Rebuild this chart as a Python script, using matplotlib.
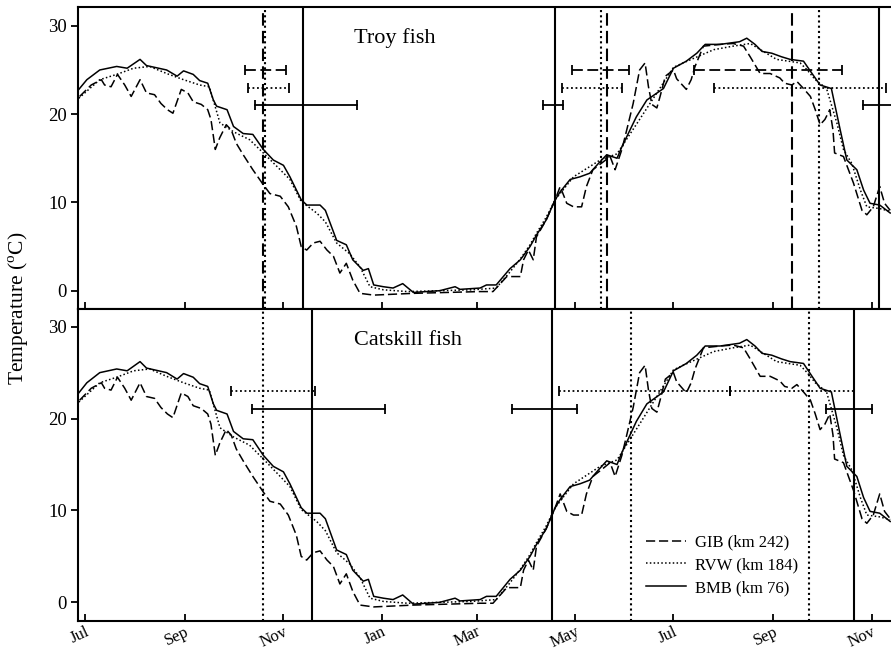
import numpy as np
import matplotlib
matplotlib.use("Agg")
import matplotlib.pyplot as plt

plt.rcParams['font.family'] = 'serif'
plt.rcParams['font.serif'] = ['Liberation Serif', 'DejaVu Serif']
plt.rcParams['mathtext.fontset'] = 'custom'
plt.rcParams['mathtext.rm'] = 'Liberation Serif'

# ---------------- data (x = days since 1 July) ----------------
gib_pts = [(-3.5, 22.0), (3.7, 23.3), (10, 23.9), (12, 23.3), (16, 23.1), (20, 24.5),
           (24.5, 23.3), (28.5, 22.0), (34, 23.9), (38, 22.4), (43, 22.2), (47, 21.2),
           (51, 20.5), (54.4, 20.1), (59.6, 22.8), (63.7, 22.4), (67, 21.4), (72, 21.1),
           (76, 20.5), (78, 19.4), (80.7, 16.0), (83.4, 17.3), (87.5, 18.8), (90.6, 18.2),
           (93.7, 16.7), (98, 15.4), (104, 13.7), (110.5, 12.0), (114.6, 11.0), (121, 10.7),
           (126, 9.5), (131, 7.3), (134, 5.0), (137.4, 4.6), (141.5, 5.4), (145.7, 5.6),
           (150, 4.6), (154, 3.9), (158, 2.0), (162, 3.1), (166, 1.2), (170.5, -0.3),
           (179, -0.5), (203.6, -0.3), (245, -0.1), (253, -0.1), (261.6, 1.6), (270, 1.6),
           (272, 3.5), (275, 4.6), (278, 3.5), (280, 6.1), (286, 8.0), (291.6, 10.3),
           (294.7, 11.8), (298.8, 9.9), (303, 9.5), (308, 9.5), (311, 11.8), (315, 13.7),
           (321.5, 14.6), (325.7, 15.2), (328.8, 13.7), (333, 16.0), (336, 18.2), (340, 21.2),
           (344, 25.0), (347.4, 25.8), (349.5, 23.1), (351.6, 21.1), (354.7, 20.7), (356.7, 22.0),
           (360, 24.3), (365, 25.0), (367, 24.0), (373, 22.8), (376, 23.9), (378.4, 25.4),
           (383.6, 27.7), (394, 27.9), (402, 28.0), (408.5, 27.7), (412.6, 26.5), (418.8, 24.6),
           (425, 24.6), (431, 24.1), (434, 23.5), (438.5, 23.3), (441.6, 23.7), (445.7, 22.9),
           (450, 22.0), (453, 20.5), (456, 18.8), (459, 19.4), (462, 20.5), (464, 18.2),
           (465, 15.6), (470.5, 15.2), (476.7, 12.2), (482, 9.1), (485, 8.6), (489, 9.5),
           (493, 11.8), (496, 9.9), (499.5, 9.1)]

rvw_pts = [(-4, 21.8), (9, 23.9), (19.5, 24.5), (30, 25.2), (40, 25.4), (50.5, 24.6),
           (61, 23.9), (71, 23.3), (77, 23.1), (83.6, 19.0), (92, 18.0), (102, 17.1),
           (110.5, 15.6), (118.8, 14.1), (127, 12.6), (134, 10.1), (143.6, 8.8), (149, 7.8),
           (156, 5.4), (164, 4.2), (170.5, 2.7), (176.7, 0.45), (185, 0.1), (200, -0.1),
           (220, 0.0), (240, 0.1), (255, 0.3), (263, 2.0), (270, 3.6), (276, 5.2),
           (280, 6.5), (286, 8.3), (291.6, 10.3), (303, 12.9), (319.5, 14.8), (330, 15.5),
           (344, 19.4), (354.7, 22.4), (365, 25.3), (371, 25.8), (390, 27.3), (402, 27.7),
           (412.6, 28.0), (419, 27.3), (429, 26.2), (443.6, 25.8), (448, 25.0), (453, 23.9),
           (460, 22.9), (466.4, 19.0), (470.5, 16.0), (475.7, 14.4), (481, 11.4), (485, 9.5),
           (493, 9.3), (499.5, 9.0)]

bmb_pts = [(-4, 22.8), (1, 23.9), (9, 25.0), (19.5, 25.4), (26, 25.2), (34, 26.2),
           (38, 25.5), (50.5, 25.0), (57, 24.3), (61, 24.9), (67, 24.5), (71, 23.8),
           (76, 23.5), (79.5, 21.6), (81.5, 20.9), (88, 20.5), (92, 18.6), (98, 17.8),
           (104, 17.7), (110.5, 16.0), (116.7, 14.8), (123, 14.2), (127, 12.9), (134, 10.3),
           (137.5, 9.7), (145.7, 9.7), (149, 9.1), (156, 5.7), (162, 5.2), (166, 3.5),
           (172.5, 2.3), (175.7, 2.5), (179, 0.65), (185, 0.45), (191, 0.3), (197, 0.8),
           (203.6, -0.2), (220, 0.0), (229.5, 0.45), (232.6, 0.15), (245, 0.3), (249, 0.65),
           (255, 0.65), (263.6, 2.5), (270, 3.5), (276, 5.0), (280, 6.3), (286, 8.0),
           (291.6, 10.3), (294.7, 11.2), (300.9, 12.6), (307, 12.9), (313, 13.3), (318.4, 14.4),
           (323.6, 15.4), (330, 15.0), (333, 16.3), (342, 19.7), (348.5, 21.6), (358.8, 22.9),
           (365, 25.2), (373, 26.0), (379.5, 26.9), (384.7, 27.9), (394, 27.9), (398, 28.0),
           (406, 28.2), (410.5, 28.6), (415.6, 27.9), (420, 27.1), (426, 26.9), (432, 26.5),
           (437.4, 26.2), (445.7, 26.0), (451, 24.6), (456, 23.3), (463, 22.9), (468.5, 18.2),
           (472.6, 14.8), (478.8, 13.7), (483, 11.4), (487, 9.9), (493, 9.7), (499.5, 8.8)]

series_names = ['GIB (km 242)', 'RVW (km 184)', 'BMB (km 76)']

tick_days = [0, 62, 123, 184, 243, 304, 365, 427, 488]
tick_labels = ['Jul', 'Sep', 'Nov', 'Jan', 'Mar', 'May', 'Jul', 'Sep', 'Nov']

# vertical lines (day) per site, per panel
troy_vlines = {'GIB': [110.1, 323.7, 438.5], 'RVW': [111.7, 320.0, 455.4], 'BMB': [135.0, 291.6, 492.3]}
catskill_vlines = {'GIB': [], 'RVW': [110.1, 338.7, 449.2], 'BMB': [140.5, 289.5, 477.3]}

# horizontal ranges (start day, end day) per site, per panel
troy_ranges = {'GIB': [(99.3, 124.6), (301.9, 337.7), (378.0, 469.5)],
               'RVW': [(101.2, 126.6), (295.7, 333.2), (390.4, 496.9)],
               'BMB': [(105.3, 168.5), (284.0, 296.7), (482.4, 515.0)]}
catskill_ranges = {'GIB': [],
                   'RVW': [(90.4, 142.6), (294.2, 400.2), (400.2, 477.2)],
                   'BMB': [(103.7, 186.0), (265.0, 305.0), (459.6, 488.5)]}
range_level = {'GIB': 25, 'RVW': 23, 'BMB': 21}

# ---------------- plot ----------------
styles = {'GIB': dict(linestyle=(0, (6, 2.5))),
          'RVW': dict(linestyle=(0, (1, 1.5))),
          'BMB': dict(linestyle='-')}
curves = {'GIB': gib_pts, 'RVW': rvw_pts, 'BMB': bmb_pts}

fig = plt.figure(figsize=(8.91, 6.52), dpi=100)
ax1 = fig.add_axes([78 / 891, 1 - 308.7 / 652, 813 / 891, 301.4 / 652])
ax2 = fig.add_axes([78 / 891, 1 - 620.7 / 652, 813 / 891, 312 / 652])

panels = [(ax1, 'Troy fish', troy_vlines, troy_ranges, (-2.04, 32.1)),
          (ax2, 'Catskill fish', catskill_vlines, catskill_ranges, (-2.0, 31.96))]

for ax, title, vlines, ranges, ylim in panels:
    for key, name in zip(['GIB', 'RVW', 'BMB'], series_names):
        d = np.array(curves[key])
        ax.plot(d[:, 0], d[:, 1], color='black', lw=1.1, label=name, **styles[key])
        for xv in vlines[key]:
            ax.axvline(xv, color='black', lw=1.5, **styles[key])
        for s, e in ranges[key]:
            y = range_level[key]
            ax.plot([s, e], [y, y], color='black', lw=1.3, **styles[key])
            ax.plot([s, e], [y, y], color='black', lw=0, marker='|',
                    markersize=7, markeredgewidth=1.3)
    ax.text(167, 28.0, title, fontsize=16, ha='left', va='baseline')
    ax.set_xlim(-4.5, 500)
    ax.set_ylim(*ylim)
    ax.set_yticks([0, 10, 20, 30])
    ax.set_xticks(tick_days)
    ax.spines['right'].set_visible(False)
    for sp in ['left', 'bottom', 'top']:
        ax.spines[sp].set_linewidth(1.5)
    ax.tick_params(axis='x', direction='in', length=5, width=1.3)
    ax.tick_params(axis='y', direction='out', length=5, width=1.3, labelsize=13.5, pad=3)

ax1.set_xticklabels([])
ax2.set_xticklabels(tick_labels, rotation=25, ha='right', rotation_mode='anchor', fontsize=12)
ax2.tick_params(axis='x', pad=2)

fig.text(19 / 891, 1 - 308 / 652, r'Temperature ($^{\rm o}$C)', rotation=90,
         ha='center', va='center', fontsize=15.5)

ax2.legend(loc='upper left', bbox_to_anchor=(0.699, 0.276), frameon=False, fontsize=12,
           handlelength=2.4, handletextpad=0.55, labelspacing=0.4, borderpad=0,
           borderaxespad=0)

fig.savefig('out.png', dpi=100)
